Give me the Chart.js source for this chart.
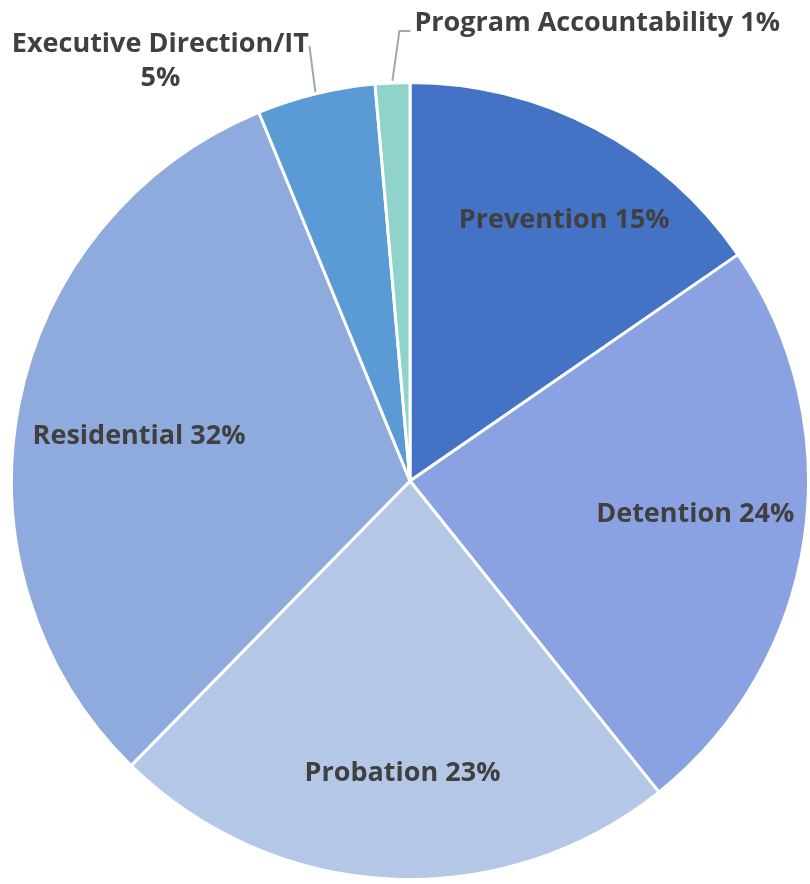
<!DOCTYPE html>
<html>
<head>
<meta charset="utf-8">
<script src="https://cdn.jsdelivr.net/npm/chart.js@4.4.0/dist/chart.umd.min.js"></script>
<style>
html,body{margin:0;padding:0;background:#fff;}
#wrap{width:810px;height:884px;}
</style>
</head>
<body>
<div id="wrap"><canvas id="pieChart"></canvas></div>
<script>
// slices clockwise from 12 o'clock
const labels = ["Prevention", "Detention", "Probation", "Residential", "Executive Direction/IT", "Program Accountability"]
const shares = [15.4, 23.9, 23.1, 31.5, 4.8, 1.4]
const pctText = ["15%", "24%", "23%", "32%", "5%", "1%"]
const colors = ["#4472C4", "#8AA2E2", "#B4C7E7", "#8FAADC", "#5B9BD5", "#8FD3CA"]

const labelFont = "bold 27px 'Open Sans', sans-serif"

// where the inside labels sit: share of radius, and nudge of angle in degrees
const insideR = [0.765, 0.72, 0.73, 0.69]
const insideTurn = [2.7, -2.1, -1.4, -1.2]

const sliceLabels = {
id: "sliceLabels",
afterDatasetsDraw(chart){
const ctx = chart.ctx
const arcs = chart.getDatasetMeta(0).data
ctx.save()
ctx.font = labelFont
ctx.fillStyle = "#404040"
ctx.textBaseline = "middle"
arcs.forEach(function(arc, i){
const mid = (arc.startAngle + arc.endAngle) / 2
const r = arc.outerRadius
if(i < 4){
const a = mid + insideTurn[i] * Math.PI / 180
const x = arc.x + Math.cos(a) * r * insideR[i]
const y = arc.y + Math.sin(a) * r * insideR[i]
ctx.textAlign = "center"
ctx.fillText(labels[i] + " " + pctText[i], x, y + 2)
} else {
const ex = arc.x + Math.cos(mid) * (r + 2)
const ey = arc.y + Math.sin(mid) * (r + 2)
ctx.strokeStyle = "#A6A6A6"
ctx.lineWidth = 2
ctx.beginPath()
if(i == 4){
ctx.moveTo(ex, ey)
ctx.lineTo(ex - 6, ey - 46)
ctx.stroke()
ctx.textAlign = "center"
ctx.fillText(labels[i], ex - 155, ey - 48)
ctx.fillText(pctText[i], ex - 155, ey - 14)
} else {
ctx.moveTo(ex, ey)
ctx.lineTo(ex + 7, ey - 50)
ctx.lineTo(ex + 18, ey - 50)
ctx.stroke()
ctx.textAlign = "left"
ctx.fillText(labels[i] + " " + pctText[i], ex + 22, ey - 58)
}
}
})
ctx.restore()
}
}

new Chart(document.getElementById("pieChart"),{
type:"pie",
data:{
labels:labels,
datasets:[{
data:shares,
backgroundColor:colors,
borderColor:"#ffffff",
borderWidth:3
}]
},
options:{
responsive:true,
maintainAspectRatio:false,
animation:false,
layout:{padding:{top:78, bottom:0, left:10, right:0}},
plugins:{
legend:{display:false},
tooltip:{enabled:false}
}
},
plugins:[sliceLabels]
})
</script>
</body>
</html>
